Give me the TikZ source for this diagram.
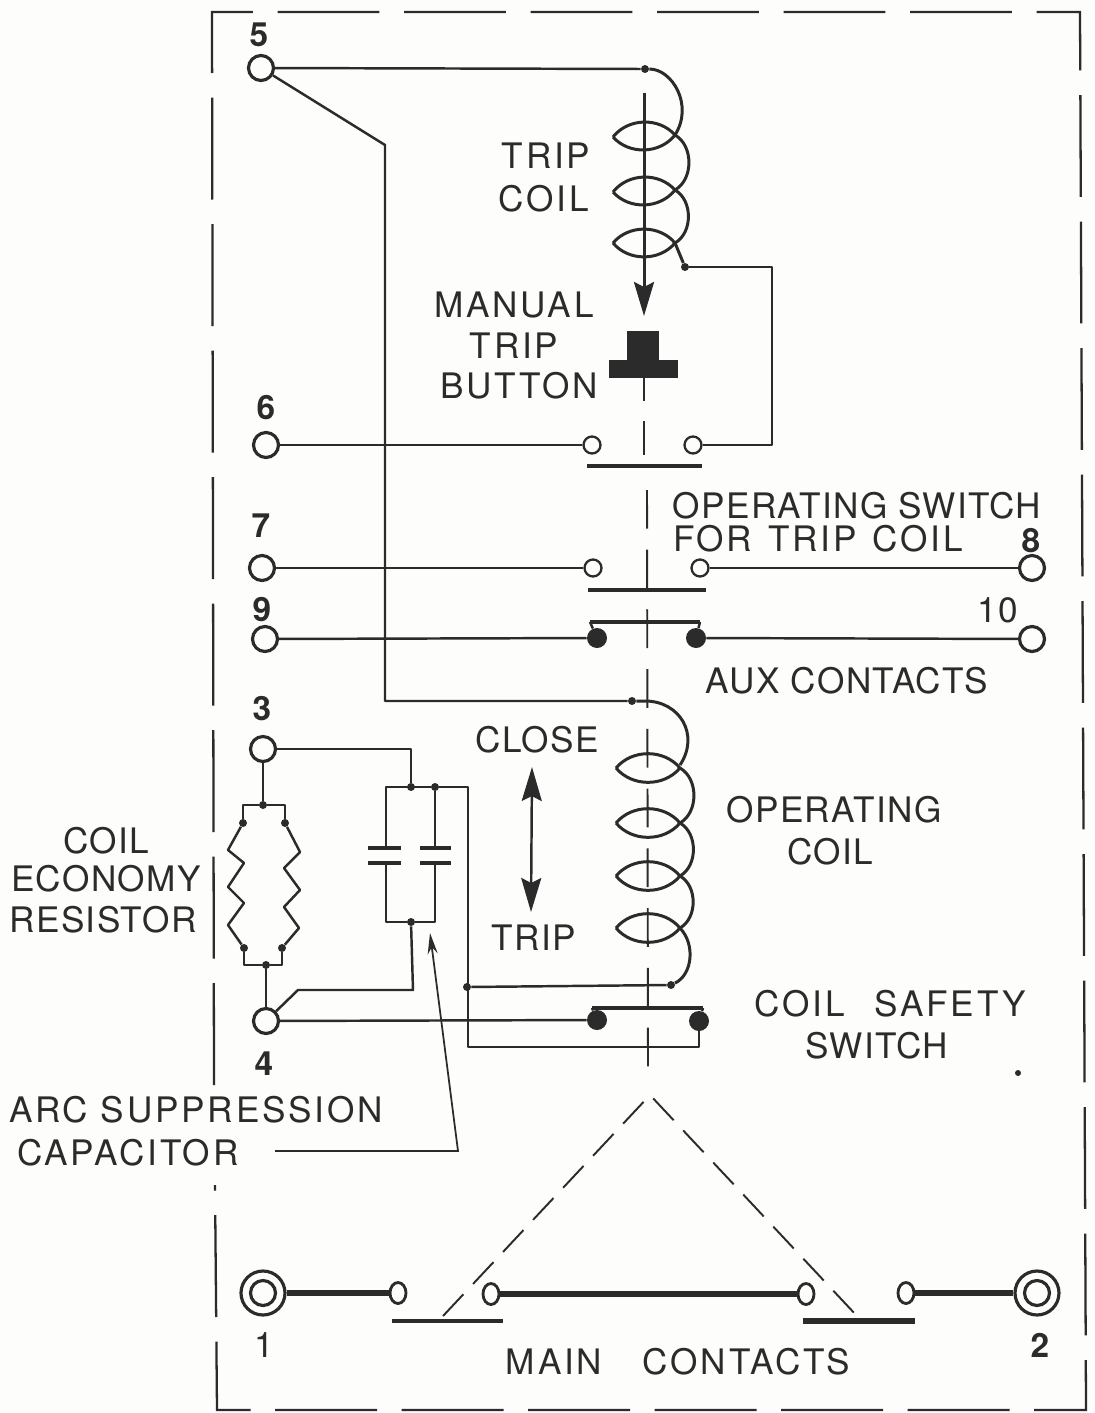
\documentclass[tikz,border=0pt]{standalone}
\usepackage{fontspec}
\setmainfont[LetterSpace=4]{TeX Gyre Heros}
\newfontfamily\widefont[LetterSpace=8]{TeX Gyre Heros}
\usetikzlibrary{arrows.meta,shapes.geometric}
\definecolor{ink}{HTML}{2B2B2B}
\definecolor{paper}{HTML}{FDFDFB}
\tikzset{
	wire/.style={draw=ink, line width=1.4pt, line join=round},
	coilwire/.style={draw=ink, line width=1.7pt, line join=round},
	thinwire/.style={draw=ink, line width=1pt},
	bus/.style={draw=ink, line width=2.8pt},
	mainbus/.style={draw=ink, line width=3.4pt},
	dashline/.style={draw=ink, line width=1.1pt, dash pattern=on 22pt off 12pt},
	framepart/.style={draw=ink, line width=1.3pt, dash pattern=on 58pt off 14pt},
	term/.style={circle, draw=ink, line width=1.8pt, fill=paper, inner sep=0pt, minimum size=0.5cm},
	contact/.style={circle, draw=ink, line width=1.3pt, fill=paper, inner sep=0pt, minimum size=0.34cm},
	maincontact/.style={ellipse, draw=ink, line width=1.6pt, fill=paper, inner sep=0pt, minimum width=0.32cm, minimum height=0.42cm},
	solidcontact/.style={circle, fill=ink, inner sep=0pt, minimum size=0.4cm},
	dot/.style={circle, fill=ink, inner sep=0pt, minimum size=0.16cm},
	lbl/.style={text=ink, inner sep=0pt, font=\fontsize{20}{20}\selectfont},
	widelbl/.style={text=ink, inner sep=0pt, font=\fontsize{20}{20}\selectfont\widefont},
	numlbl/.style={text=ink, inner sep=0pt, font=\fontsize{19}{19}\selectfont\bfseries},
	bighead/.tip={Stealth[length=0.68cm, width=0.4cm, inset=0.1cm]},
}
\begin{document}
\begin{tikzpicture}[x=0.02cm, y=-0.02cm]
	\fill[paper] (0,0) rectangle (1095,1413);
	\useasboundingbox (0,0) rectangle (1095,1413);

	% frame
	\draw[framepart] (214,1085) -- (212,12) -- (1080,12) -- (1086,1410) -- (217,1410) -- (215,1185);

	% centre line
	\draw[dashline] (647,490) -- (648,1070);
	\draw[wire] (644,378) -- (644,401);
	\draw[wire] (644,421) -- (644,455);

	% terminals
	\node[term] (t5) at (261,68) {};
	\node[term] (t6) at (266,445) {};
	\node[term] (t7) at (262,568) {};
	\node[term] (t8) at (1032,568) {};
	\node[term] (t9) at (265,639) {};
	\node[term] (t10) at (1032,639) {};
	\node[term] (t3) at (263,749) {};
	\node[term] (t4) at (266,1021) {};
	\node[term, minimum size=0.88cm] (t1) at (263,1293) {};
	\node[term, minimum size=0.88cm] (t2) at (1037,1293) {};
	\node[term, minimum size=0.5cm] (t1i) at (263,1293) {};
	\node[term, minimum size=0.5cm] (t2i) at (1037,1293) {};

	% contacts
	\node[contact] (c6a) at (592,445) {};
	\node[contact] (c6b) at (693,445) {};
	\node[contact] (c7a) at (593,568) {};
	\node[contact] (c7b) at (700,568) {};
	\node[solidcontact] (c9a) at (597,638) {};
	\node[solidcontact] (c9b) at (696,638) {};
	\node[solidcontact] (s4a) at (597,1020) {};
	\node[solidcontact] (s4b) at (699,1021) {};
	\node[maincontact] (m1a) at (398,1293) {};
	\node[maincontact] (m1b) at (491,1294) {};
	\node[maincontact] (m2a) at (806,1294) {};
	\node[maincontact] (m2b) at (906,1293) {};

	% junctions
	\node[dot] (j5) at (645,69) {};
	\node[dot] (jtrip) at (685,267) {};
	\node[dot] (jop) at (632,701) {};
	\node[dot] (jopb) at (671,985) {};
	\node[dot] (jcap) at (411,787) {};
	\node[dot] (jcapb) at (435,787) {};
	\node[dot] (jcapc) at (411,922) {};
	\node[dot] (jret) at (467,987) {};
	\node[dot] (jrt) at (263,805) {};
	\node[dot] (jrb) at (266,965) {};
	\node[dot] (r1t) at (243,823) {};
	\node[dot] (r2t) at (285,823) {};
	\node[dot] (r1b) at (244,948) {};
	\node[dot] (r2b) at (282,948) {};

	% bends
	\coordinate (b5a) at (385,145);
	\coordinate (b5b) at (385,701);
	\coordinate (b6) at (772,267);
	\coordinate (b3) at (411,749);
	\coordinate (b4a) at (298,990);
	\coordinate (b4b) at (413,990);
	\coordinate (bcap) at (468,787);
	\coordinate (bsafe) at (468,1047);

	% wires
	\draw[wire] (t5) -- (j5);
	\draw[wire] (t5) -- (b5a) -- (b5b) -- (jop);
	\draw[wire] (t6) -- (c6a);
	\draw[wire] (jtrip) -- (b6) |- (c6b);
	\draw[wire] (t7) -- (c7a);
	\draw[wire] (c7b) -- (t8);
	\draw[wire] (t9) -- (c9a);
	\draw[wire] (c9b) -- (t10);
	\draw[wire] (t3) -- (b3) -- (jcap);
	\draw[wire] (t3) -- (jrt);
	\draw[wire] (jrb) -- (t4);
	\draw[wire] (t4) -- (b4a) -- (b4b) -- (jcapc);
	\draw[wire] (t4) -- (s4a);
	\draw[wire] (jret) -- (jopb);
	\draw[wire] (jcapb) -- (bcap) -- (bsafe) -| (s4b);

	% trip coil
	\draw[coilwire] (j5) .. controls (672,69) and (694,105) .. (675,135);
	\foreach \ltop/\lbot in {137/135, 192/190, 243/243} {
		\draw[coilwire] (613,\ltop) to[bend left=50] (675,\lbot);
		\draw[coilwire] (613,\ltop) to[bend right=50] (675,\lbot);
	}
	\draw[coilwire] (675,135) to[bend left=60] (675,190);
	\draw[coilwire] (675,190) to[bend left=60] (675,243);
	\draw[coilwire] (675,243) -- (jtrip);
	\draw[coilwire, -{bighead}] (644,93) -- (644,316);

	% button
	\fill[ink] (627,331) rectangle (659,362);
	\fill[ink] (609,360) rectangle (678,378);

	% operating coil
	\draw[coilwire] (jop) -- (645,701) .. controls (680,701) and (700,735) .. (680,765);
	\foreach \ltop in {768, 823, 876, 928} {
		\draw[coilwire] (616,\ltop) to[bend left=50] (680,\ltop);
		\draw[coilwire] (616,\ltop) to[bend right=50] (680,\ltop);
	}
	\draw[coilwire] (680,768) to[bend left=60] (680,823);
	\draw[coilwire] (680,823) to[bend left=60] (680,876);
	\draw[coilwire] (680,876) to[bend left=60] (680,928);
	\draw[coilwire] (680,928) .. controls (696,945) and (692,975) .. (jopb);

	% resistors
	\draw[wire] (r1t) |- (jrt) -| (r2t);
	\draw[wire] (r1b) |- (jrb) -| (r2b);
	\draw[wire] (r1t) -- (228,850) -- (244,863) -- (228,887) -- (244,903) -- (228,925) -- (r1b);
	\draw[wire] (r2t) -- (300,852) -- (284,868) -- (300,890) -- (284,907) -- (299,928) -- (r2b);

	% capacitors
	\draw[wire] (jcapb) -- (386,787) -- (386,848);
	\draw[wire] (386,863) -- (386,922) -- (jcapc) -- (435,922) -- (435,863);
	\draw[wire] (jcapb) -- (435,848);
	\draw[bus] (368,848) -- (401,848);
	\draw[bus] (368,863) -- (401,863);
	\draw[bus] (420,848) -- (451,848);
	\draw[bus] (420,863) -- (451,863);

	% moving contacts
	\draw[bus] (587,466) -- (702,466);
	\draw[bus] (588,590) -- (706,590);
	\draw[bus] (590,622) -- (700,622);
	\draw[bus, line width=2.2pt] (592,1008) -- (703,1008);
	\draw[wire] (592,1008) -- (s4a);
	\draw[wire] (703,1008) -- (s4b);
	\draw[wire] (590,622) -- (c9a);
	\draw[wire] (700,622) -- (c9b);

	% main contacts
	\draw[mainbus] (t1) -- (m1a);
	\draw[mainbus] (m1b) -- (m2a);
	\draw[mainbus] (m2b) -- (t2);
	\draw[bus] (392,1321) -- (503,1321);
	\draw[mainbus] (803,1321) -- (915,1321);
	\draw[dashline, dash pattern=on 17pt off 8pt] (443,1316) -- (650,1095) -- (857,1316);

	% close / trip
	\draw[wire, {bighead}-{bighead}] (532,767) -- (531,912);

	% arc capacitor pointer
	\coordinate (ptr) at (430,933);
	\draw[thinwire, -{Stealth[length=0.42cm, width=0.2cm]}] (275,1151) -- (458,1151) -- (ptr);

	% speck
	\node[dot, minimum size=0.12cm] (speck) at (1018,1073) {};

	% numbers
	\node[numlbl] (n5) at (259,35) {5};
	\node[numlbl] (n6) at (266,408) {6};
	\node[numlbl] (n7) at (261,526) {7};
	\node[numlbl] (n8) at (1031,541) {8};
	\node[numlbl] (n9) at (262,610) {9};
	\node[lbl] (n10) at (998,610) {10};
	\node[numlbl] (n3) at (262,709) {3};
	\node[numlbl] (n4) at (264,1064) {4};
	\node[lbl] (n1) at (264,1345) {1};
	\node[numlbl] (n2) at (1040,1345) {2};

	% labels
	\node[widelbl] (ltrip) at (546,156) {TRIP};
	\node[widelbl] (lcoil) at (544,199) {COIL};
	\node[widelbl] (lman) at (514,305) {MANUAL};
	\node[widelbl] (lmtrip) at (514,346) {TRIP};
	\node[widelbl] (lbut) at (519,386) {BUTTON};
	\node[lbl] (lsw) at (857,506) {OPERATING SWITCH};
	\node[widelbl] (lfor) at (818,539) {FOR\hspace{0.1em} TRIP\hspace{0.1em} COIL};
	\node[lbl] (laux) at (847,681) {AUX CONTACTS};
	\node[lbl] (lclose) at (537,740) {CLOSE};
	\node[lbl] (ltr) at (534,938) {TRIP};
	\node[lbl] (lop) at (834,810) {OPERATING};
	\node[lbl] (lopc) at (830,852) {COIL};
	\node[widelbl] (lsafe) at (890,1004) {COIL\hspace{0.5em} SAFETY};
	\node[lbl] (lsafes) at (877,1046) {SWITCH};
	\node[lbl] (lecoa) at (106,841) {COIL};
	\node[lbl] (lecob) at (106,879) {ECONOMY};
	\node[lbl] (lecoc) at (103,920) {RESISTOR};
	\node[widelbl] (larc) at (196,1110) {ARC SUPPRESSION};
	\node[widelbl] (lcap) at (128,1153) {CAPACITOR};
	\node[widelbl] (lmain) at (678,1362) {MAIN\hspace{0.8em} CONTACTS};
\end{tikzpicture}
\end{document}
